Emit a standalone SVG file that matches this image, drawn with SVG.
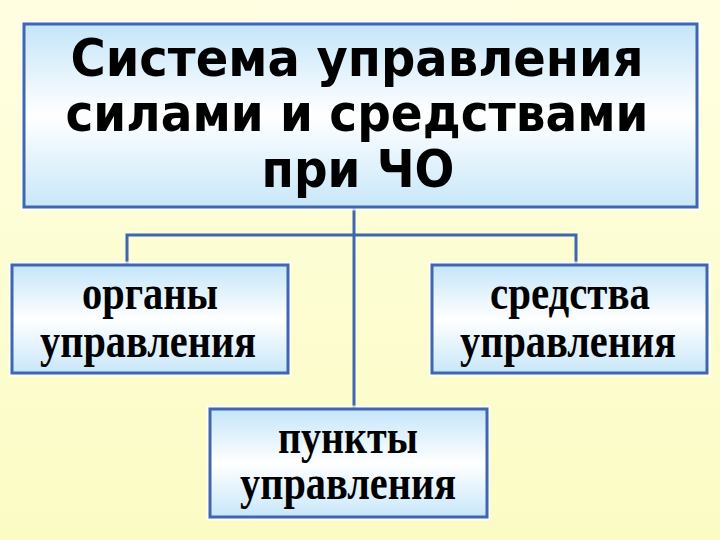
<svg xmlns="http://www.w3.org/2000/svg" width="720" height="540" viewBox="0 0 720 540">
<defs>
<linearGradient id="bg" x1="0" y1="0" x2="0" y2="1">
<stop offset="0" stop-color="#fffee2"/>
<stop offset="1" stop-color="#fbfcc4"/>
</linearGradient>
<linearGradient id="box" x1="0" y1="0" x2="0" y2="1">
<stop offset="0" stop-color="#c4e5f9"/>
<stop offset="0.5" stop-color="#ffffff"/>
<stop offset="1" stop-color="#c8e7f9"/>
</linearGradient>
<style>
.glow{fill:none;stroke:#ffffff;stroke-width:7;stroke-opacity:0.75}
.box{fill:url(#box);stroke:#3f66b0;stroke-width:3}
.conn{fill:none;stroke:#3f66b0;stroke-width:3}
.title{font-family:"DejaVu Sans",Verdana,sans-serif;font-weight:bold;font-size:51px;fill:#000;text-anchor:middle}
.lbl{font-family:"Liberation Serif","Times New Roman",serif;font-weight:bold;font-size:48px;fill:#000;text-anchor:middle}
</style>
</defs>
<rect width="720" height="540" fill="url(#bg)"/>
<g id="connectors">
<line class="conn" x1="354" y1="207" x2="354" y2="409"/>
<polyline class="conn" points="127,265 127,235 576,235 576,265"/>
</g>
<g id="top">
<rect class="glow" x="24" y="24" width="673" height="183"/>
<rect class="box" x="24" y="24" width="673" height="183"/>
<text class="title" x="357" y="76" textLength="573" lengthAdjust="spacingAndGlyphs">Система управления</text>
<text class="title" x="357" y="131" textLength="583" lengthAdjust="spacingAndGlyphs">силами и средствами</text>
<text class="title" x="358" y="187" textLength="193" lengthAdjust="spacingAndGlyphs">при ЧО</text>
</g>
<g id="organy">
<rect class="glow" x="12" y="265" width="276" height="108"/>
<rect class="box" x="12" y="265" width="276" height="108"/>
<text class="lbl" x="150" y="309" textLength="136" lengthAdjust="spacingAndGlyphs">органы</text>
<text class="lbl" x="148" y="357" textLength="216" lengthAdjust="spacingAndGlyphs">управления</text>
</g>
<g id="sredstva">
<rect class="glow" x="432" y="265" width="275" height="108"/>
<rect class="box" x="432" y="265" width="275" height="108"/>
<text class="lbl" x="570" y="309" textLength="160" lengthAdjust="spacingAndGlyphs">средства</text>
<text class="lbl" x="568" y="357" textLength="216" lengthAdjust="spacingAndGlyphs">управления</text>
</g>
<g id="punkty">
<rect class="glow" x="210" y="409" width="277" height="108"/>
<rect class="box" x="210" y="409" width="277" height="108"/>
<text class="lbl" x="348" y="453" textLength="140" lengthAdjust="spacingAndGlyphs">пункты</text>
<text class="lbl" x="348" y="499" textLength="216" lengthAdjust="spacingAndGlyphs">управления</text>
</g>
</svg>
